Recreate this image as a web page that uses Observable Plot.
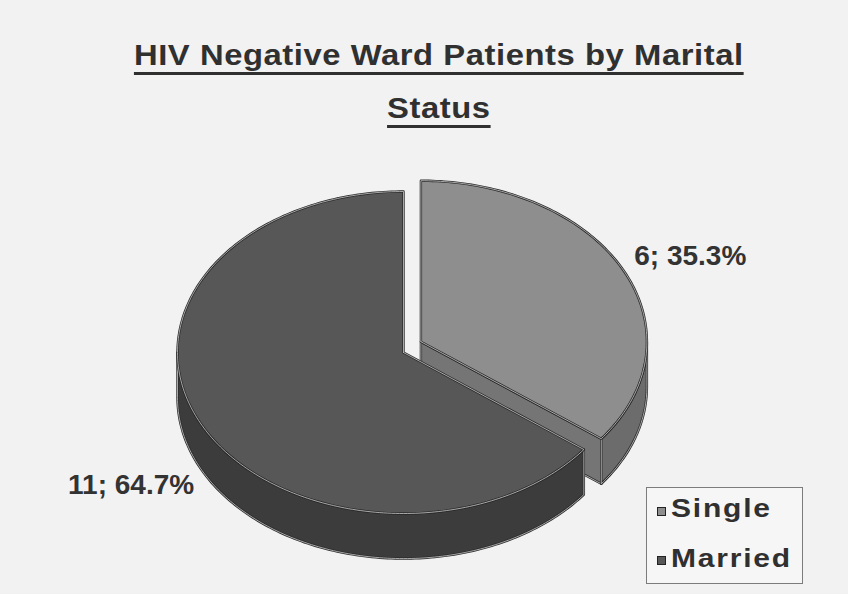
<!DOCTYPE html>
<html>
<head>
<meta charset="utf-8">
<script src="https://cdn.jsdelivr.net/npm/d3@7"></script>
<script src="https://cdn.jsdelivr.net/npm/@observablehq/plot@0.6"></script>
<style>
  html, body { margin: 0; padding: 0; background: #f2f2f2; }
  #chart { position: relative; width: 848px; height: 594px; overflow: hidden;
           font-family: "Liberation Sans", Arial, sans-serif; color: #303030; }
  #chart svg { position: absolute; left: 0; top: 0; }
  .title { position: absolute; left: 15px; width: 848px; text-align: center; font-weight: bold;
           font-size: 29px; line-height: 29px; white-space: nowrap; }
  .title span { display: inline-block; letter-spacing: 0.5px; transform: scaleX(1.13); transform-origin: center;
                text-decoration: underline; text-decoration-thickness: 3px; text-underline-offset: 7px; }
  .legend { position: absolute; left: 646px; top: 487px; width: 155px; height: 95px;
            border: 1px solid #7c7c7c; background: #f6f6f6; }
  .legend .item { position: absolute; left: 24px; font-weight: bold; font-size: 25px;
                  line-height: 25px; letter-spacing: 1.5px; white-space: nowrap;
                  transform: scaleX(1.2); transform-origin: left center; }
  .legend .sw { position: absolute; left: 10px; width: 7px; height: 7px; border: 1px solid #222; }
</style>
</head>
<body>
<div id="chart">
  <div class="title" style="top:41px"><span>HIV Negative Ward Patients by Marital</span></div>
  <div class="title" style="top:94px"><span>Status</span></div>
</div>
<script>
// Patients by marital status
const categories = ["Single", "Married"];
const counts = [6, 11];

// Slice explosion (in radius units) and wall depth relative to the vertical radius
const explodeX = [0.077, 0];
const explodeY = [0.067, 0];
const tilt = 0.28;

const shades = {
  Single:  {top: "#8e8e8e", wall: "#6c6c6c", face: "#757575"},
  Married: {top: "#575757", wall: "#3c3c3c", face: "#484848"}
};

const total = d3.sum(counts);
const fmt = d3.format(".1f");
const rows = categories.map((c, i) => ({
  category: c, count: counts[i], ox: explodeX[i], oy: explodeY[i],
  label: `${counts[i]}; ${fmt(counts[i] / total * 100)}%`
}));

const arcs = d3.pie().sort(null).value(d => d.count)(rows);

// Point on the rim at angle a (clockwise from 12 o'clock), h = 0 top face, 1 bottom
const rim = (s, a, h) => ({x: s.ox + Math.sin(a), y: s.oy + Math.cos(a) - tilt * h});
const hub = (s, h) => ({x: s.ox, y: s.oy - tilt * h});
function arcPts(s, a0, a1, h) {
  const n = Math.max(2, Math.ceil(Math.abs(a1 - a0) / (Math.PI / 180)));
  return d3.range(n + 1).map(i => rim(s, a0 + (a1 - a0) * i / n, h));
}

// Build the visible faces of each slice
const slices = arcs.map(a => {
  const s = a.data, a0 = a.startAngle, a1 = a.endAngle, sh = shades[s.category];
  const polys = [];
  // cut faces
  if (Math.sin(a1) > 1e-6) polys.push({fill: sh.face, pts: [hub(s, 0), rim(s, a1, 0), rim(s, a1, 1), hub(s, 1), hub(s, 0)]});
  if (Math.sin(a0) < -1e-6) polys.push({fill: sh.face, pts: [hub(s, 0), rim(s, a0, 0), rim(s, a0, 1), hub(s, 1), hub(s, 0)]});
  // front wall
  const b0 = Math.max(a0, Math.PI / 2), b1 = Math.min(a1, 3 * Math.PI / 2);
  if (b1 > b0) {
    const w = [...arcPts(s, b0, b1, 0), ...arcPts(s, b1, b0, 1)];
    w.push(w[0]);
    polys.push({fill: sh.wall, pts: w});
  }
  // top face
  polys.push({fill: sh.top, pts: [hub(s, 0), ...arcPts(s, a0, a1, 0), hub(s, 0)]});
  const mid = (a0 + a1) / 2;
  return {s, mid, polys, anchor: rim(s, mid, 0.5)};
});

// paint the slices furthest back first
const order = slices.slice().sort((p, q) => Math.cos(q.mid) - Math.cos(p.mid));

const marks = [];
for (const sl of order) {
  for (const p of sl.polys) {
    marks.push(Plot.line(p.pts, {x: "x", y: "y", fill: p.fill, stroke: "#2a2a2a",
      strokeWidth: 2.4, strokeLinejoin: "round"}));
    marks.push(Plot.line(p.pts, {x: "x", y: "y", stroke: "#d0d0d0",
      strokeWidth: 0.9, strokeOpacity: 0.85, strokeLinejoin: "round"}));
  }
}

const labelRows = slices.map(sl => ({...sl.anchor, label: sl.s.label, right: Math.sin(sl.mid) > 0}));
const textStyle = {x: "x", y: "y", text: "label", fontSize: 28, fontWeight: "bold",
  fontFamily: "Liberation Sans, Arial, sans-serif", fill: "#333"};
marks.push(Plot.text(labelRows.filter(d => d.right), {...textStyle, textAnchor: "start", dx: 11, dy: -36}));
marks.push(Plot.text(labelRows.filter(d => !d.right), {...textStyle, textAnchor: "end", dx: -7, dy: 38}));

const chart = Plot.plot({
  width: 848,
  height: 594,
  margin: 0,
  x: {domain: [-1, 1], range: [177, 629], axis: null},
  y: {domain: [-1, 1], range: [513, 191], axis: null},
  style: "background: transparent; overflow: visible;",
  marks
});
const root = document.getElementById("chart");
root.insertBefore(chart, root.firstChild);

// Legend
const legend = document.createElement("div");
legend.className = "legend";
categories.forEach((c, i) => {
  const sw = document.createElement("div");
  sw.className = "sw";
  sw.style.top = (19 + i * 49) + "px";
  sw.style.background = shades[c].top;
  legend.appendChild(sw);
  const item = document.createElement("div");
  item.className = "item";
  item.style.top = (8 + i * 50) + "px";
  item.textContent = c;
  legend.appendChild(item);
});
root.appendChild(legend);
</script>
</body>
</html>
